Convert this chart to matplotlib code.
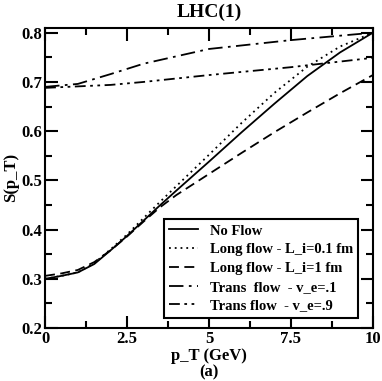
import matplotlib
matplotlib.use("Agg")
import matplotlib.pyplot as plt
from matplotlib.ticker import MultipleLocator

plt.rcParams["font.family"] = ["Liberation Serif", "DejaVu Serif"]
plt.rcParams["font.weight"] = "bold"

# values
pt = [0, 0.5, 1, 1.5, 2, 2.5, 3, 3.5, 4, 5, 6, 7, 8, 9, 10]
no_flow = [0.300, 0.306, 0.313, 0.330, 0.358, 0.387, 0.418, 0.449, 0.479,
           0.538, 0.598, 0.656, 0.712, 0.760, 0.800]
long_01 = [0.300, 0.306, 0.313, 0.332, 0.360, 0.390, 0.423, 0.456, 0.488,
           0.552, 0.617, 0.678, 0.731, 0.772, 0.800]
long_1 = [0.306, 0.311, 0.318, 0.334, 0.358, 0.386, 0.416, 0.445, 0.470,
          0.513, 0.556, 0.598, 0.638, 0.677, 0.714]

pt_trans = [0, 1, 2, 3, 4, 5, 7.5, 10]
trans_01 = [0.690, 0.696, 0.716, 0.737, 0.752, 0.767, 0.785, 0.800]
trans_09 = [0.688, 0.691, 0.694, 0.700, 0.707, 0.714, 0.730, 0.749]

labels = ["No Flow", "Long flow - L_i=0.1 fm", "Long flow - L_i=1 fm",
          "Trans  flow  - v_e=.1", "Trans flow  - v_e=.9"]

fig = plt.figure(figsize=(3.82, 3.81), dpi=100)
ax = fig.add_axes([0.118, 0.139, 0.858, 0.788])

lw = 1.3
ax.plot(pt, no_flow, color="black", lw=lw, ls="-", label=labels[0])
ax.plot(pt, long_01, color="black", lw=lw, ls=(0, (1, 2.2)), label=labels[1])
ax.plot(pt, long_1, color="black", lw=lw, ls=(0, (5.5, 3)), label=labels[2])
ax.plot(pt_trans, trans_01, color="black", lw=lw, ls=(0, (8, 3, 1.5, 3)), label=labels[3])
ax.plot(pt_trans, trans_09, color="black", lw=lw,
        ls=(0, (6, 2.5, 1.5, 2.5, 1.5, 2.5)), label=labels[4])

ax.set_xlim(0, 10)
ax.set_ylim(0.2, 0.81)
ax.xaxis.set_major_locator(MultipleLocator(2.5))
ax.xaxis.set_minor_locator(MultipleLocator(1.25))
ax.yaxis.set_major_locator(MultipleLocator(0.1))
ax.yaxis.set_minor_locator(MultipleLocator(0.05))
ax.xaxis.set_major_formatter(plt.FuncFormatter(lambda v, p: f"{v:g}"))
ax.yaxis.set_major_formatter(plt.FuncFormatter(lambda v, p: f"{v:.1f}"))

ax.tick_params(which="both", direction="in", top=True, right=True, width=1.5,
               labelsize=12, pad=2)
ax.tick_params(which="major", length=9)
ax.tick_params(which="minor", length=5)
for s in ax.spines.values():
    s.set_linewidth(1.5)

ax.set_title("LHC(1)", fontsize=14, fontweight="bold", pad=8)
ax.set_xlabel("p_T (GeV)\n(a)", fontsize=12, fontweight="bold", labelpad=1, linespacing=1.05)
ax.set_ylabel("S(p_T)", fontsize=12, fontweight="bold", labelpad=2)

leg = ax.legend(loc="lower right", bbox_to_anchor=(0.965, 0.025), fontsize=10.5,
                handlelength=2.0, handletextpad=0.8, borderpad=0.35,
                labelspacing=0.38, fancybox=False, framealpha=1,
                edgecolor="black", borderaxespad=0.2)
leg.get_frame().set_linewidth(1.5)
for t in leg.get_texts():
    t.set_fontweight("bold")

fig.savefig("out.png", dpi=100)
